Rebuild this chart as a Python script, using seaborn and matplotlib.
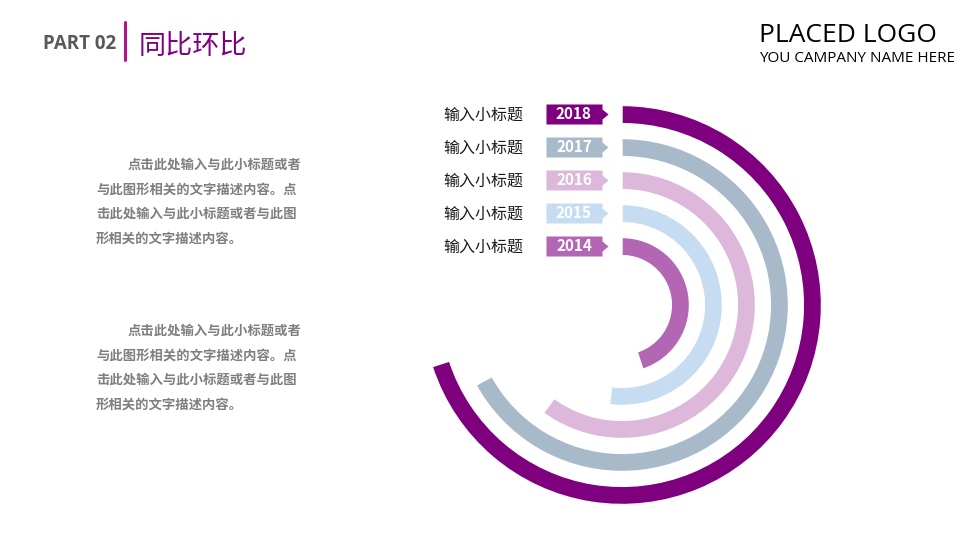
import numpy as np
import pandas as pd
import seaborn as sns
import matplotlib.pyplot as plt
from matplotlib.lines import Line2D
from matplotlib.path import Path
from matplotlib.transforms import offset_copy

# ---- data ----
years = ['2014', '2015', '2016', '2017', '2018']
ring = [0, 1, 2, 3, 4]               # inner -> outer
share = [45, 52, 60, 67, 70]         # % of the full circle
subtitles = ['输入小标题'] * 5
colors = {
    '2014': '#B366B3',
    '2015': '#C6DDF1',
    '2016': '#DDB8DA',
    '2017': '#A8BACA',
    '2018': '#7F007F',
}
para = [
    '点击此处输入与此小标题或者',
    '与此图形相关的文字描述内容。点',
    '击此处输入与此小标题或者与此图',
    '形相关的文字描述内容。',
]

df = pd.DataFrame({'year': years, 'ring': ring, 'share': share})
df['theta'] = df['share'] / 100 * 2 * np.pi

sns.set_theme(style='white')
plt.rcParams['font.family'] = ['Noto Sans CJK SC', 'DejaVu Sans']

W, H = 960, 540
fig = plt.figure(figsize=(W / 100, H / 100), dpi=100)


def fx(x):
    return x / W


def fy(y):
    return 1 - y / H


# =============================================================================
# radial bars
# =============================================================================
cx, cy, half = 622, 305, 200
ax = fig.add_axes([fx(cx - half), fy(cy + half), 2 * half / W, 2 * half / H],
                  projection='polar')

sns.barplot(data=df, x='theta', y='ring', hue='year', palette=colors,
            orient='h', native_scale=True, width=0.55, saturation=1,
            errorbar=None, legend=False, ax=ax)

ax.set_theta_zero_location('N')
ax.set_theta_direction(-1)

# year tags + subtitles at the start of each ring
tag = Path([(-28, -10), (28, -10), (28, -5), (34, 0), (28, 5), (28, 10),
            (-28, 10), (-28, -10)], closed=True)

for yr, r, sub in zip(years, ring, subtitles):
    t = offset_copy(ax.transData, fig=fig, x=-48, y=1, units='dots')
    ax.plot([0], [r], marker=tag, ms=49, mew=0, color=colors[yr],
            transform=t, clip_on=False)
    ax.text(0, r, yr, transform=t, ha='center', va='center', color='white',
            fontsize=11, fontweight='bold', clip_on=False)
    ax.annotate(sub, xy=(0, r), xytext=(-99, -1), textcoords='offset pixels',
                ha='right', va='center', fontsize=11.5, color='#1a1a1a',
                annotation_clip=False)

ax.set_thetalim(0, 2 * np.pi)
ax.set_ylim(-1.77, 4.29)
ax.set_axis_off()

# =============================================================================
# header, logo, text blocks
# =============================================================================
fig.text(fx(116), fy(44), 'PART 02', ha='right', va='center', fontsize=13.5,
         fontweight='bold', color='#595959', family='Open Sans')
fig.add_artist(Line2D([fx(125)] * 2, [fy(22), fy(60)], color='#B0158C', lw=2.2))
fig.text(fx(139), fy(46), '同比环比', ha='left', va='center', fontsize=19.5,
         color='#800080')

fig.text(fx(759), fy(35), 'PLACED LOGO', fontsize=19, family='Open Sans',
         color='black', va='center')
fig.text(fx(759), fy(59), 'YOU CAMPANY NAME HERE', fontsize=11,
         family='Open Sans', color='black', va='center')

for top in (165, 331):
    for i, line in enumerate(para):
        x = 128 if i == 0 else 96
        fig.text(fx(x), fy(top + i * 24.4), line, fontsize=9.6,
                 fontweight='bold', color='#7F7F7F', va='center')

fig.savefig('out.png', dpi=100)
